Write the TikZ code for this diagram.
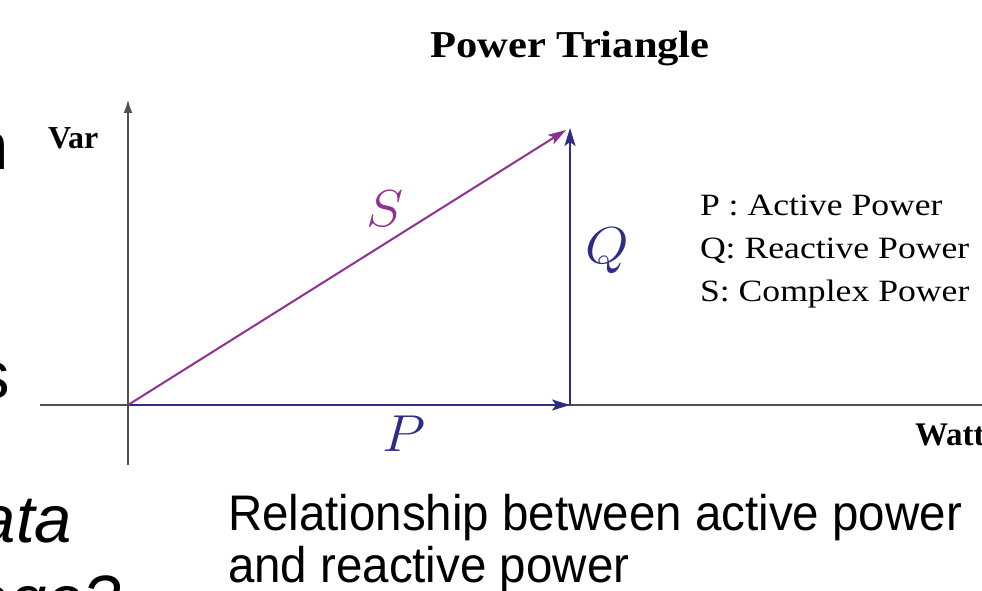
\RequirePackage{fix-cm}
\documentclass[tikz,border=0pt]{standalone}
\usepackage{fontspec}
\setmainfont{Liberation Serif}
\newfontfamily\arial{Liberation Sans}
\usetikzlibrary{arrows.meta}
\definecolor{vblue}{HTML}{2E2D83}
\definecolor{vpurple}{HTML}{8E3192}
\definecolor{axgray}{HTML}{505050}
\tikzset{
  txt/.style={inner sep=0pt, outer sep=0pt},
  axisline/.style={draw=axgray, line width=2.6pt},
  vec/.style={line width=2pt, -{Stealth[length=18pt,width=11pt,inset=4pt]}},
  mlabel/.style={txt, font=\fontsize{52}{52}\selectfont, xscale=1.08, transform shape},
  legend/.style={txt, anchor=base west, font=\fontsize{31}{31}\selectfont, xscale=1.15, transform shape},
  slide/.style={txt, font=\arial\fontsize{67}{67}\selectfont},
  caption/.style={txt, anchor=base west, font=\arial\fontsize{50}{50}\selectfont, xscale=0.95, transform shape},
}
\begin{document}
\begin{tikzpicture}[x=1pt,y=-1pt]
\useasboundingbox (0,0) rectangle (982,591);
\clip (0,0) rectangle (982,591);
\fill[white] (0,0) rectangle (982,591);

% coordinates
\coordinate (O) at (128,405);
\coordinate (C) at (570,405);
\coordinate (T) at (570,128);
\coordinate (xl) at (40,405);
\coordinate (xr) at (990,405);
\coordinate (yb) at (128,465);
\coordinate (yt) at (128,99);
\coordinate (st) at (566,130);

% axes
\draw[axisline] (xl) -- (xr);
\draw[axisline, -{Latex[length=14pt,width=9pt]}] (yb) -- (yt);

% vectors
\draw[vec, draw=vblue, fill=vblue] (O) -- (C);
\draw[vec, draw=vblue, fill=vblue] (C) -- (T);
\draw[vec, draw=vpurple, fill=vpurple] (O) -- (st);

% labels
\node[mlabel, text=vpurple] (Slab) at (385,209) {$S$};
\node[mlabel, text=vblue] (Qlab) at (607,251) {$Q$};
\node[mlabel, text=vblue] (Plab) at (404,434) {$P$};

\node[txt, anchor=base, font=\bfseries\fontsize{38}{38}\selectfont, xscale=1.12, transform shape] (title) at (570,58) {Power Triangle};
\node[txt, anchor=base west, font=\bfseries\fontsize{32}{32}\selectfont] (var) at (48,148) {Var};
\node[txt, anchor=base west, font=\bfseries\fontsize{33}{33}\selectfont] (watt) at (915,445) {Watt};

\node[legend] (l1) at (700,215) {P : Active Power};
\node[legend] (l2) at (700,258) {Q: Reactive Power};
\node[legend] (l3) at (700,301) {S: Complex Power};

\node[caption] (cap1) at (228,530) {Relationship between active power};
\node[caption] (cap2) at (228,582) {and reactive power};

% slide text fragments
\node[slide, anchor=base east] (f1) at (9,169) {n};
\node[slide, anchor=base east] (f2) at (10,398) {s};
\node[slide, anchor=base east, font=\arial\itshape\fontsize{67}{67}\selectfont] (f3) at (72,542) {ata};
\node[slide, anchor=base east, font=\arial\itshape\fontsize{67}{67}\selectfont] (f4) at (121,622) {age?};
\end{tikzpicture}
\end{document}
